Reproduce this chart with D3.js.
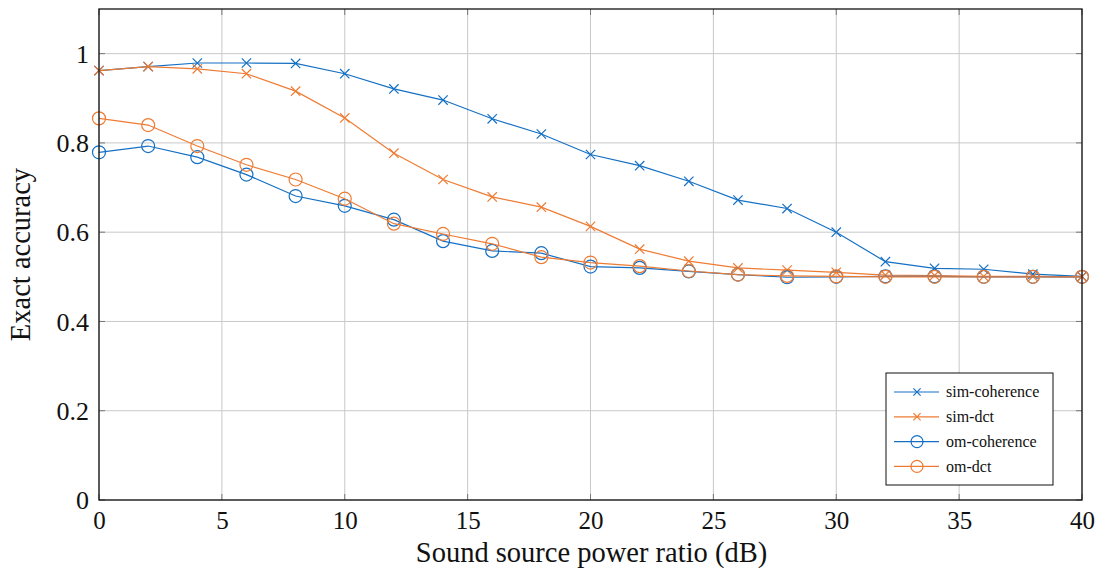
<!DOCTYPE html>
<html>
<head>
<meta charset="utf-8">
<script src="https://cdn.jsdelivr.net/npm/d3@7"></script>
<style>
  body { margin: 0; background: #fff; }
  svg { display: block; }
  text { font-family: "Liberation Serif", "DejaVu Serif", serif; fill: #111; }
</style>
</head>
<body>
<svg id="chart" width="1106" height="577"></svg>
<script>
// Sound source power ratio (dB)
const ratios = [0, 2, 4, 6, 8, 10, 12, 14, 16, 18, 20, 22, 24, 26, 28, 30, 32, 34, 36, 38, 40];

// Exact accuracy per method
const simCoherence = [0.962, 0.971, 0.979, 0.979, 0.978, 0.955, 0.921, 0.896, 0.854, 0.820, 0.774, 0.749, 0.714, 0.672, 0.653, 0.600, 0.534, 0.519, 0.517, 0.506, 0.501];
const simDct       = [0.962, 0.971, 0.966, 0.955, 0.916, 0.856, 0.777, 0.718, 0.679, 0.656, 0.613, 0.562, 0.535, 0.520, 0.515, 0.510, 0.504, 0.503, 0.501, 0.501, 0.500];
const omCoherence  = [0.779, 0.793, 0.768, 0.729, 0.681, 0.659, 0.628, 0.580, 0.558, 0.553, 0.523, 0.520, 0.512, 0.505, 0.499, 0.500, 0.501, 0.501, 0.500, 0.500, 0.500];
const omDct        = [0.855, 0.840, 0.793, 0.751, 0.718, 0.675, 0.619, 0.596, 0.574, 0.544, 0.532, 0.524, 0.513, 0.505, 0.502, 0.501, 0.500, 0.500, 0.500, 0.500, 0.500];

const xTicks = [0, 5, 10, 15, 20, 25, 30, 35, 40];
const yTicks = [0, 0.2, 0.4, 0.6, 0.8, 1];

const seriesNames = ["sim-coherence", "sim-dct", "om-coherence", "om-dct"];
const seriesValues = [simCoherence, simDct, omCoherence, omDct];
const seriesMarkers = ["cross", "cross", "circle", "circle"];

const blue = "#1570c4";
const orange = "#ee7b33";
const seriesColors = [blue, orange, blue, orange];
const serif = '"Liberation Serif", "DejaVu Serif", serif';

const svg = d3.select("#chart");
const plotLeft = 99, plotRight = 1082, plotTop = 9, plotBottom = 500;

const x = d3.scaleLinear().domain([0, 40]).range([plotLeft, plotRight]);
const y = d3.scaleLinear().domain([0, 1.1]).range([plotBottom, plotTop]);

// grid
const grid = svg.append("g");
grid.selectAll("line.gx").data(xTicks).join("line")
  .attr("x1", d => x(d)).attr("x2", d => x(d))
  .attr("y1", plotTop).attr("y2", plotBottom)
  .attr("stroke", "#c8c8c8").attr("stroke-width", 1);
grid.selectAll("line.gy").data(yTicks).join("line")
  .attr("x1", plotLeft).attr("x2", plotRight)
  .attr("y1", d => y(d)).attr("y2", d => y(d))
  .attr("stroke", "#c8c8c8").attr("stroke-width", 1);

// inward tick marks
const tickLen = 6;
const ticks = svg.append("g").attr("stroke", "#777").attr("stroke-width", 1);
yTicks.forEach(t => {
  ticks.append("line").attr("x1", plotLeft).attr("x2", plotLeft + tickLen).attr("y1", y(t)).attr("y2", y(t));
  ticks.append("line").attr("x1", plotRight).attr("x2", plotRight - tickLen).attr("y1", y(t)).attr("y2", y(t));
});
xTicks.forEach(t => {
  ticks.append("line").attr("x1", x(t)).attr("x2", x(t)).attr("y1", plotBottom).attr("y2", plotBottom - tickLen);
  ticks.append("line").attr("x1", x(t)).attr("x2", x(t)).attr("y1", plotTop).attr("y2", plotTop + tickLen);
});

// tick labels via d3 axes (no domain or tick lines)
const xAxis = svg.append("g").attr("transform", `translate(0,${plotBottom})`)
  .call(d3.axisBottom(x).tickValues(xTicks).tickSize(0).tickPadding(0).tickFormat(d3.format("d")));
const yAxis = svg.append("g").attr("transform", `translate(${plotLeft},0)`)
  .call(d3.axisLeft(y).tickValues(yTicks).tickSize(0).tickPadding(10).tickFormat(d => d === 0 || d === 1 ? String(d) : d3.format(".1f")(d)));
[xAxis, yAxis].forEach(a => {
  a.attr("font-family", serif);
  a.select(".domain").remove();
  a.selectAll("text").attr("font-family", serif).style("font-family", serif).attr("fill", "#111");
});
yAxis.attr("font-size", 26).selectAll("text").style("font-size", "26px").attr("dy", "0.33em");
xAxis.attr("font-size", 25).selectAll("text").style("font-size", "25px").attr("y", 29).attr("dy", 0);

// series
const line = d3.line().x((d, i) => x(ratios[i])).y(d => y(d));
const plot = svg.append("g");

function drawMarker(g, kind, cx, cy, color, r) {
  if (kind === "cross") {
    const s = r * 0.72;
    g.append("path")
      .attr("d", `M${cx - s},${cy - s}L${cx + s},${cy + s}M${cx - s},${cy + s}L${cx + s},${cy - s}`)
      .attr("stroke", color).attr("stroke-width", 1.2).attr("fill", "none");
  } else {
    g.append("circle").attr("cx", cx).attr("cy", cy).attr("r", r)
      .attr("stroke", color).attr("stroke-width", 1.2).attr("fill", "none");
  }
}

seriesValues.forEach((vals, k) => {
  const g = plot.append("g");
  g.append("path").datum(vals).attr("d", line)
    .attr("fill", "none").attr("stroke", seriesColors[k]).attr("stroke-width", 1.2);
  vals.forEach((v, i) => drawMarker(g, seriesMarkers[k], x(ratios[i]), y(v), seriesColors[k], 6.5));
});

// frame
svg.append("rect").attr("x", plotLeft).attr("y", plotTop).attr("width", plotRight - plotLeft).attr("height", plotBottom - plotTop)
  .attr("fill", "none").attr("stroke", "#111").attr("stroke-width", 1.3);

// axis titles
svg.append("text").attr("x", (plotLeft + plotRight) / 2 + 1).attr("y", 562).attr("text-anchor", "middle")
  .style("font-size", "28.5px").text("Sound source power ratio (dB)");
svg.append("text").attr("transform", `translate(30,${(plotTop + plotBottom) / 2}) rotate(-90)`)
  .attr("text-anchor", "middle").style("font-size", "28.5px").text("Exact accuracy");

// legend
const lg = svg.append("g").attr("transform", "translate(886,373)");
lg.append("rect").attr("width", 167).attr("height", 112).attr("fill", "#fff").attr("stroke", "#111").attr("stroke-width", 1);
seriesNames.forEach((name, k) => {
  const ly = 19 + k * 24.8;
  lg.append("line").attr("x1", 8).attr("x2", 53).attr("y1", ly).attr("y2", ly)
    .attr("stroke", seriesColors[k]).attr("stroke-width", 1.2);
  drawMarker(lg, seriesMarkers[k], 31, ly, seriesColors[k], seriesMarkers[k] === "cross" ? 5 : 6);
  lg.append("text").attr("x", 60).attr("y", ly).attr("dy", "0.33em").style("font-size", "16px").text(name);
});
</script>
</body>
</html>
